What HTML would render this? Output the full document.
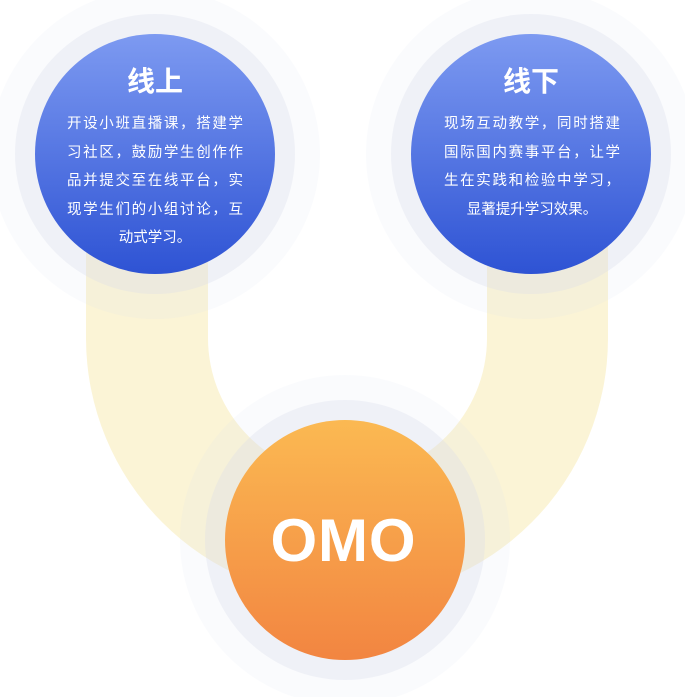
<!DOCTYPE html>
<html><head><meta charset="utf-8"><style>
html,body{margin:0;padding:0;background:#fff;width:685px;height:697px;overflow:hidden}
svg{display:block}
text{font-family:"Liberation Sans","Noto Sans CJK SC",sans-serif;fill:#fff}
</style></head><body>
<svg width="685" height="697" viewBox="0 0 685 697" xmlns="http://www.w3.org/2000/svg">
<defs>
<linearGradient id="b" x1="0" y1="0" x2="0" y2="1"><stop offset="0" stop-color="#7d9af1"/><stop offset="1" stop-color="#2e53d4"/></linearGradient>
<linearGradient id="o" x1="0" y1="0" x2="0" y2="1"><stop offset="0" stop-color="#fbb952"/><stop offset="1" stop-color="#f28541"/></linearGradient>
</defs>
<path d="M86 154 L86 338 A261 261 0 0 0 608 338 L608 154 L487 154 L487 338 A139.5 139.5 0 0 1 208 338 L208 154 Z" fill="#fbf4d6"/>
<g fill="rgb(215,219,235)">
<circle cx="155" cy="154" r="165" fill-opacity="0.12"/>
<circle cx="155" cy="154" r="140" fill-opacity="0.3"/>
<circle cx="531" cy="154" r="165" fill-opacity="0.12"/>
<circle cx="531" cy="154" r="140" fill-opacity="0.3"/>
<circle cx="345" cy="540" r="165" fill-opacity="0.12"/>
<circle cx="345" cy="540" r="140" fill-opacity="0.3"/>
</g>
<circle cx="155" cy="154" r="120" fill="url(#b)"/>
<circle cx="531" cy="154" r="120" fill="url(#b)"/>
<circle cx="345" cy="540" r="120" fill="url(#o)"/>
<g text-anchor="middle">
<text x="155" y="91" font-size="28" font-weight="bold">线上</text>
<g font-size="14.5">
<text x="155" y="128" textLength="176">开设小班直播课，搭建学</text>
<text x="155" y="157" textLength="176">习社区，鼓励学生创作作</text>
<text x="155" y="185" textLength="176">品并提交至在线平台，实</text>
<text x="155" y="214" textLength="176">现学生们的小组讨论，互</text>
<text x="155" y="242">动式学习。</text>
</g>
<text x="531" y="91" font-size="28" font-weight="bold">线下</text>
<g font-size="14.5">
<text x="532" y="128" textLength="176">现场互动教学，同时搭建</text>
<text x="532" y="157" textLength="176">国际国内赛事平台，让学</text>
<text x="532" y="185" textLength="176">生在实践和检验中学习，</text>
<text x="532" y="214">显著提升学习效果。</text>
</g>
<text x="343" y="561" font-size="60" font-weight="bold" textLength="145">OMO</text>
</g>
</svg>
</body></html>
